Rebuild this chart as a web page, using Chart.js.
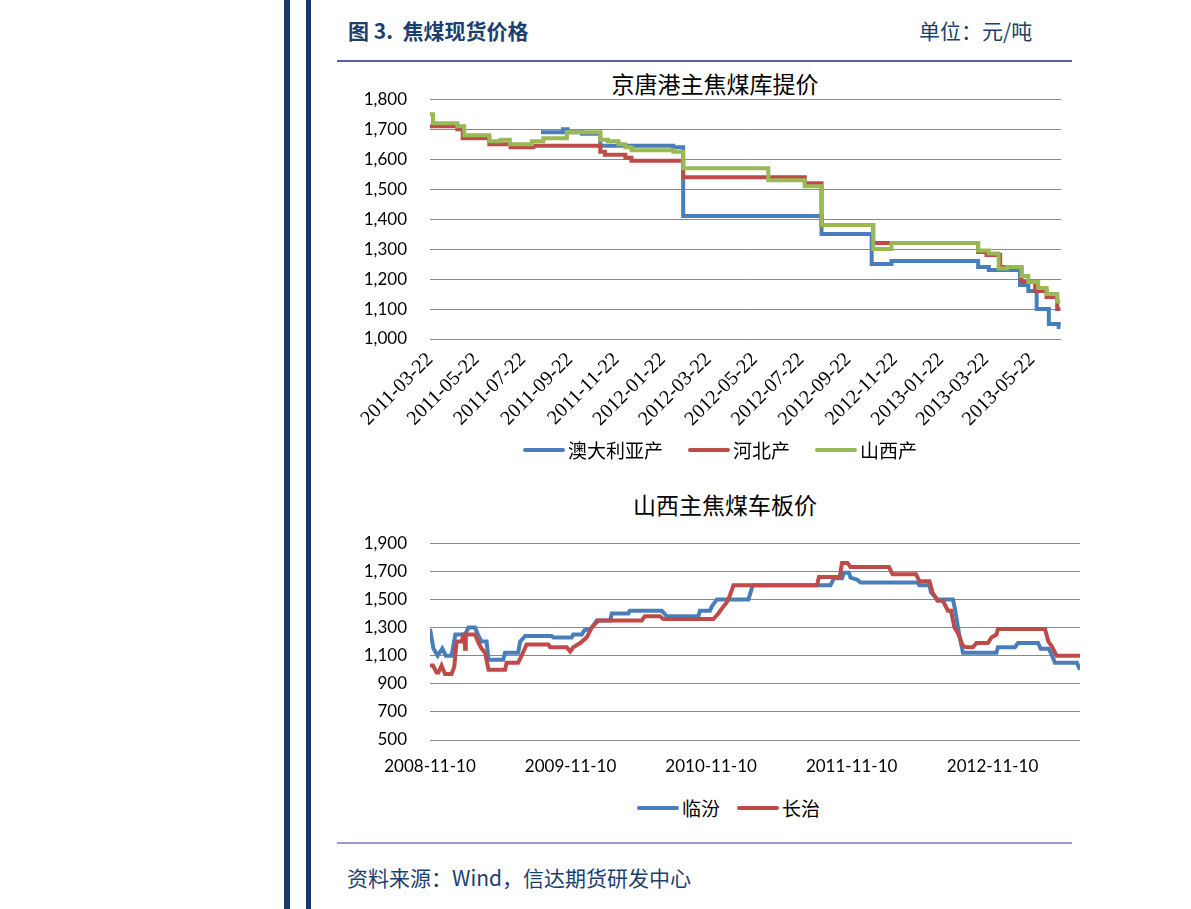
<!DOCTYPE html>
<html lang="zh-CN">
<head>
<meta charset="utf-8">
<title>焦煤现货价格</title>
<script src="https://cdn.jsdelivr.net/npm/chart.js@4.4.1/dist/chart.umd.min.js"></script>
<style>
  html, body { margin: 0; padding: 0; background: #fff; }
  body { width: 1191px; height: 909px; position: relative; overflow: hidden; font-family: "Noto Sans CJK SC", sans-serif; }
  .bar { position: absolute; top: 0; height: 909px; background: #173a66; }
  .rule { position: absolute; left: 337px; width: 735px; }
  .txt { position: absolute; line-height: 1; white-space: nowrap; color: #1c3f6e; }
  .title { position: absolute; line-height: 1; white-space: nowrap; color: #000; font-size: 23px; transform: translateX(-50%); }
  .legend { position: absolute; display: flex; align-items: center; font-size: 19px; line-height: 1; color: #000; white-space: nowrap; }
  .legend span { display: flex; align-items: center; }
  .legend i { display: inline-block; width: 42px; height: 4px; border-radius: 2px; margin-right: 3px; }
  canvas { position: absolute; }
</style>
</head>
<body>
<div class="bar" style="left:284px;width:6px"></div>
<div class="bar" style="left:306px;width:5px"></div>

<div class="txt" style="left:348px;top:20px;font-size:21px;font-weight:bold">图 3.&nbsp;&nbsp;焦煤现货价格</div>
<div class="txt" style="left:919px;top:20px;font-size:21px">单位：元/吨</div>
<div class="rule" style="top:60px;height:1.5px;background:#5c5cad"></div>

<div class="title" style="left:715px;top:72px">京唐港主焦煤库提价</div>
<canvas id="chart-port" width="741" height="373" style="left:340px;top:66px"></canvas>
<div class="legend" id="legend-port" style="left:523px;top:440px"></div>

<div class="title" style="left:725px;top:493px">山西主焦煤车板价</div>
<canvas id="chart-pit" width="745" height="275" style="left:340px;top:510px"></canvas>
<div class="legend" id="legend-pit" style="left:637px;top:798px"></div>

<div class="rule" style="top:842px;height:1.5px;background:#9a9acf"></div>
<div class="txt" style="left:347px;top:867px;font-size:21px">资料来源：Wind，信达期货研发中心</div>

<script>
const BLUE = '#4a7ebb';
const RED = '#be4b48';
const GREEN = '#98b954';
const GRID = '#888888';

// 京唐港主焦煤库提价 -- days after PORT_START, price in yuan/t (step changes)
const PORT_START = '2011-03-22';
const PORT_END_DAY = 830;
const portTicks = ['2011-03-22', '2011-05-22', '2011-07-22', '2011-09-22', '2011-11-22', '2012-01-22', '2012-03-22',
    '2012-05-22', '2012-07-22', '2012-09-22', '2012-11-22', '2013-01-22', '2013-03-22', '2013-05-22'];

const ausDays = [146, 175, 181, 200, 224, 320, 333, 515, 581, 607, 721, 735, 776, 787, 798, 814, 827, 829];
const ausPrices = [1690, 1700, 1690, 1685, 1645, 1640, 1410, 1350, 1250, 1260, 1240, 1230, 1180, 1160, 1100, 1050, 1040, 1040];

const hebeiDays = [0, 36, 43, 78, 106, 136, 224, 230, 257, 265, 333, 493, 515, 583, 721, 732, 750, 778, 796, 811, 825, 829];
const hebeiPrices = [1710, 1700, 1670, 1650, 1640, 1645, 1625, 1615, 1605, 1595, 1540, 1520, 1380, 1320, 1290, 1280, 1240, 1190, 1160, 1140, 1100, 1100];

const shanxiDays = [0, 4, 36, 45, 78, 93, 105, 134, 149, 180, 224, 234, 248, 257, 265, 320, 333, 445, 493, 515,
    583, 607, 721, 735, 748, 759, 778, 787, 800, 811, 825, 829];
const shanxiPrices = [1750, 1720, 1710, 1680, 1660, 1665, 1650, 1660, 1670, 1690, 1665, 1660, 1650, 1640, 1630, 1625, 1570, 1530, 1510, 1380,
    1300, 1320, 1295, 1285, 1235, 1240, 1210, 1190, 1170, 1150, 1125, 1125];

// 山西主焦煤车板价 -- days after PIT_START
const PIT_START = '2008-11-10';
const PIT_END_DAY = 1688;
const pitTicks = ['2008-11-10', '2009-11-10', '2010-11-10', '2011-11-10', '2012-11-10'];

const linfenDays = [0, 9, 20, 32, 41, 56, 66, 91, 100, 117, 126, 134, 147, 152, 190, 195, 229, 234, 247, 316,
    320, 368, 372, 394, 401, 416, 420, 433, 468, 472, 515, 519, 602, 615, 697, 701, 727, 732, 745, 827,
    838, 1040, 1049, 1070, 1075, 1088, 1092, 1110, 1118, 1266, 1271, 1297, 1301, 1318, 1358, 1362, 1375, 1384, 1471, 1475,
    1519, 1527, 1579, 1586, 1606, 1614, 1623, 1680, 1688];
const linfenPrices = [1290, 1150, 1100, 1150, 1100, 1100, 1250, 1250, 1300, 1300, 1240, 1200, 1200, 1070, 1070, 1120, 1120, 1200, 1240, 1240,
    1230, 1230, 1250, 1250, 1280, 1290, 1300, 1350, 1350, 1400, 1400, 1420, 1420, 1380, 1380, 1420, 1420, 1450, 1500, 1500,
    1600, 1600, 1650, 1650, 1690, 1690, 1655, 1640, 1620, 1620, 1600, 1600, 1550, 1500, 1500, 1450, 1240, 1120, 1120, 1160,
    1160, 1190, 1190, 1150, 1150, 1110, 1050, 1050, 1000];

const changzhiDays = [0, 8, 17, 22, 30, 39, 56, 63, 69, 82, 87, 89, 91, 93, 117, 126, 134, 143, 152, 195,
    199, 229, 238, 251, 307, 312, 355, 364, 372, 390, 407, 420, 437, 550, 558, 597, 606, 736, 749, 762,
    771, 779, 788, 1005, 1010, 1064, 1070, 1084, 1092, 1192, 1201, 1262, 1271, 1297, 1305, 1318, 1332, 1345, 1353, 1362,
    1371, 1384, 1392, 1410, 1419, 1449, 1458, 1471, 1475, 1597, 1606, 1614, 1627, 1688];
const changzhiPrices = [1030, 1030, 980, 980, 1030, 970, 970, 1020, 1200, 1200, 1250, 1250, 1150, 1250, 1250, 1190, 1150, 1120, 1000, 1000,
    1050, 1050, 1100, 1180, 1180, 1160, 1160, 1130, 1160, 1190, 1230, 1300, 1350, 1350, 1380, 1380, 1360, 1360, 1400, 1450,
    1480, 1530, 1600, 1600, 1660, 1660, 1760, 1760, 1730, 1730, 1680, 1680, 1630, 1630, 1550, 1490, 1490, 1420, 1420, 1300,
    1260, 1170, 1160, 1160, 1190, 1190, 1230, 1250, 1290, 1290, 1200, 1170, 1100, 1100];

function dayOf(date, start) {
    const [y, m, d] = date.split('-').map(Number);
    const [y0, m0, d0] = start.split('-').map(Number);
    return (Date.UTC(y, m - 1, d) - Date.UTC(y0, m0 - 1, d0)) / 86400000;
}

function pairs(days, prices) {
    return days.map((d, i) => ({ x: d, y: prices[i] }));
}

function lineSet(label, days, prices, color, order, stepped) {
    return {
        label,
        data: pairs(days, prices),
        borderColor: color,
        backgroundColor: color,
        borderWidth: 4,
        pointRadius: 0,
        tension: 0,
        stepped,
        order,
    };
}

// legend is built in html from the chart's datasets (keeps Excel-like spacing)
function buildLegend(chart, id, gap) {
    const box = document.getElementById(id);
    chart.data.datasets.forEach((ds, i) => {
        const item = document.createElement('span');
        if (i < chart.data.datasets.length - 1) item.style.marginRight = `${gap}px`;
        const swatch = document.createElement('i');
        swatch.style.background = ds.borderColor;
        item.appendChild(swatch);
        item.appendChild(document.createTextNode(ds.label));
        box.appendChild(item);
    });
}

// note: ticks.padding also pads the top of the plot (33px), canvas tops account for it
function yAxis(min, max, step) {
    return {
        min,
        max,
        afterFit: (s) => { s.width = 90; },
        border: { display: false },
        grid: { color: GRID, drawTicks: false, lineWidth: 1 },
        ticks: {
            stepSize: step,
            padding: 23,
            color: '#000',
            font: { family: 'Lato', size: 17 },
            callback: (v) => v.toLocaleString('en-US'),
        },
    };
}

function renderPort() {
    const chart = new Chart(document.getElementById('chart-port'), {
        type: 'line',
        data: {
            datasets: [
                lineSet('澳大利亚产', ausDays, ausPrices, BLUE, 2, true),
                lineSet('河北产', hebeiDays, hebeiPrices, RED, 1, true),
                lineSet('山西产', shanxiDays, shanxiPrices, GREEN, 0, true),
            ],
        },
        options: {
            responsive: false,
            animation: false,
            layout: { padding: { left: 0, right: 20, top: 0, bottom: 0 } },
            plugins: { legend: { display: false }, tooltip: { enabled: false } },
            scales: {
                x: {
                    type: 'linear',
                    min: 0,
                    max: PORT_END_DAY,
                    grid: { display: false, drawTicks: false },
                    border: { display: false },
                    afterBuildTicks: (s) => { s.ticks = portTicks.map((t) => ({ value: dayOf(t, PORT_START) })); },
                    afterFit: (s) => { s.height = 100; },
                    ticks: {
                        autoSkip: false,
                        minRotation: 45,
                        maxRotation: 45,
                        padding: 9,
                        color: '#000',
                        font: { family: '"Liberation Serif", serif', size: 20 },
                        callback: (v, i) => portTicks[i],
                    },
                },
                y: yAxis(1000, 1800, 100),
            },
        },
    });
    buildLegend(chart, 'legend-port', 25);
}

function renderPit() {
    const chart = new Chart(document.getElementById('chart-pit'), {
        type: 'line',
        data: {
            datasets: [
                lineSet('临汾', linfenDays, linfenPrices, BLUE, 1, false),
                lineSet('长治', changzhiDays, changzhiPrices, RED, 0, false),
            ],
        },
        options: {
            responsive: false,
            animation: false,
            layout: { padding: { left: 0, right: 5, top: 0, bottom: 0 } },
            plugins: { legend: { display: false }, tooltip: { enabled: false } },
            scales: {
                x: {
                    type: 'linear',
                    min: 0,
                    max: PIT_END_DAY,
                    grid: { display: false, drawTicks: false },
                    border: { display: false },
                    afterBuildTicks: (s) => { s.ticks = pitTicks.map((t) => ({ value: dayOf(t, PIT_START) })); },
                    afterFit: (s) => { s.height = 45; },
                    ticks: {
                        autoSkip: false,
                        maxRotation: 0,
                        padding: 16,
                        color: '#000',
                        font: { family: 'Lato', size: 17 },
                        callback: (v, i) => pitTicks[i],
                    },
                },
                y: yAxis(500, 1900, 200),
            },
        },
    });
    buildLegend(chart, 'legend-pit', 17);
}

renderPort();
renderPit();
</script>
</body>
</html>
